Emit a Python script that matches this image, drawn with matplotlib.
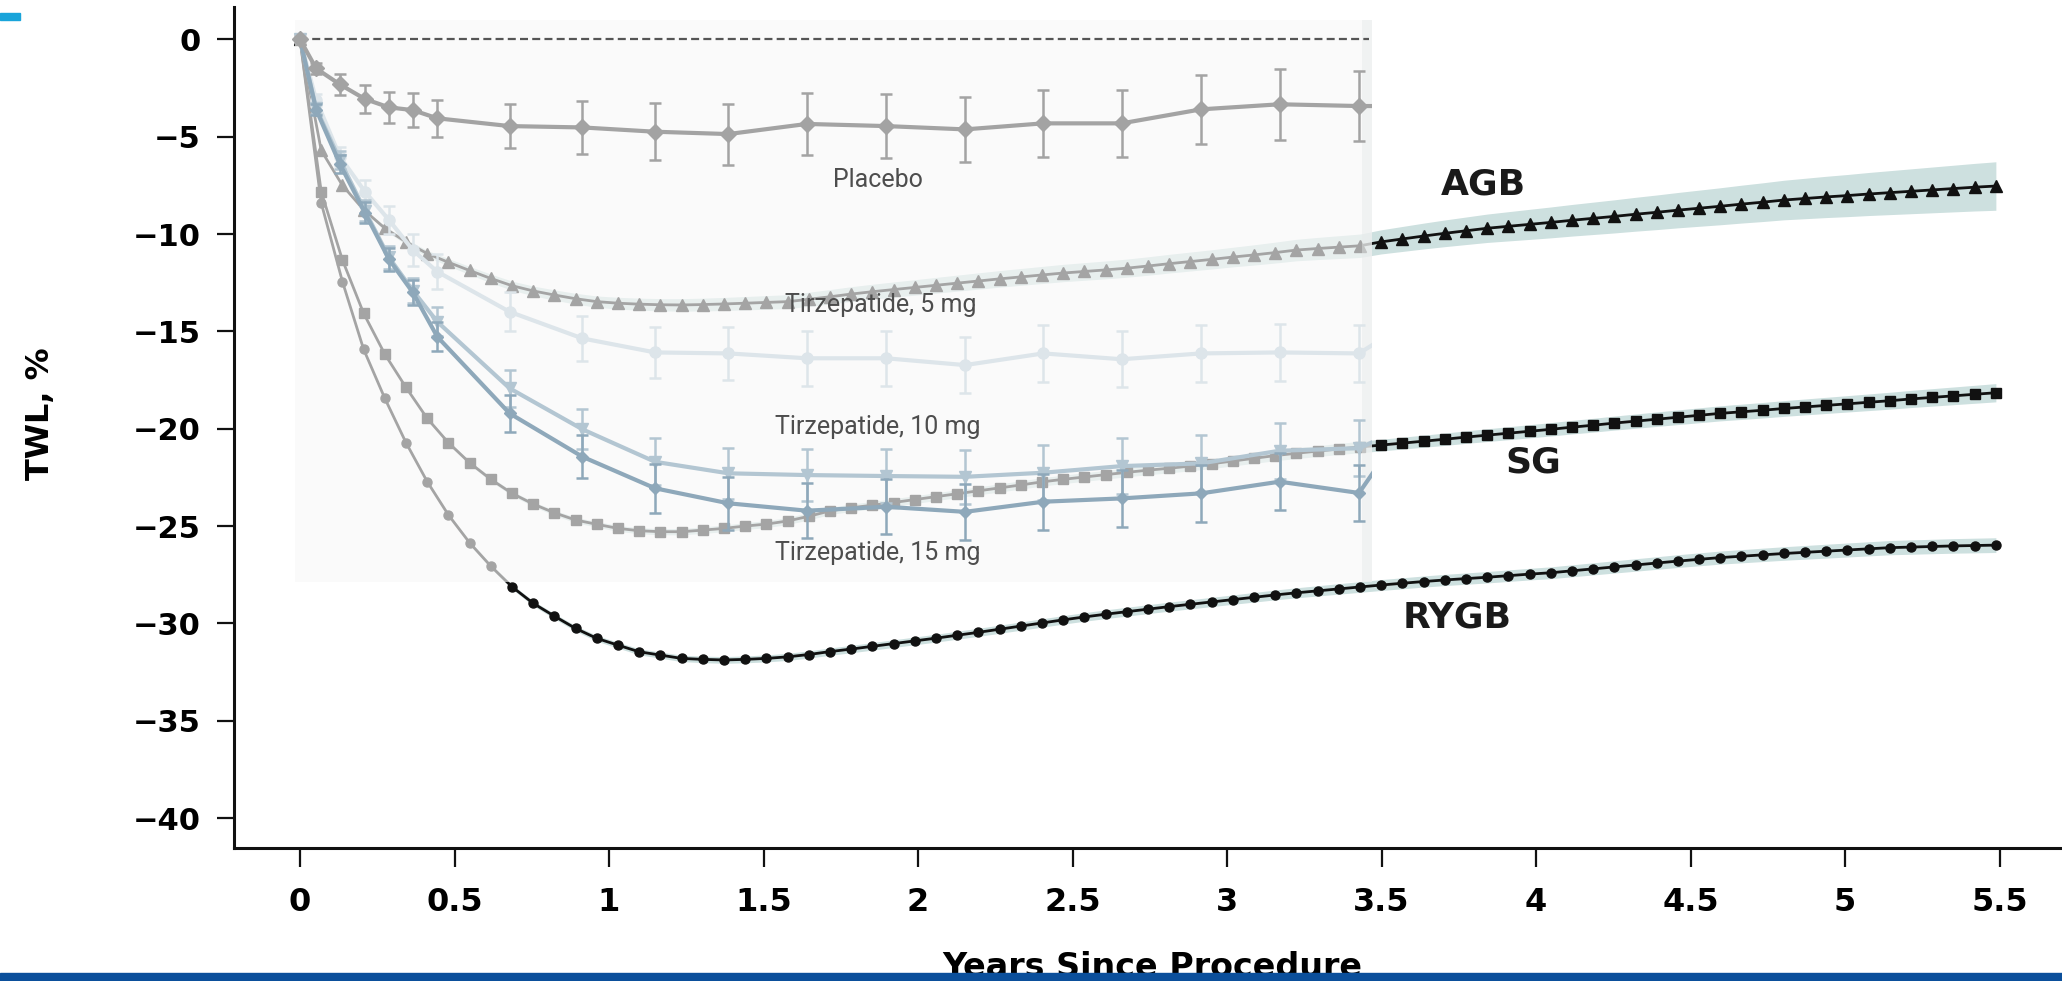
import numpy as np
import matplotlib
matplotlib.use('Agg')
import matplotlib.pyplot as plt
from matplotlib.patches import Rectangle

# surgical cohorts: one marker every ~0.0686 yr (81 markers up to 5.5 yr)
surg_t = np.round(np.arange(81) * 0.0686, 4)

agb = [0, -5.7, -7.5, -8.75, -9.7, -10.4, -11.0, -11.45, -11.87, -12.28,
       -12.65, -12.92, -13.13, -13.32, -13.47, -13.55, -13.6, -13.63, -13.64, -13.62,
       -13.59, -13.55, -13.51, -13.47, -13.35, -13.22, -13.08, -12.96, -12.85, -12.74,
       -12.63, -12.52, -12.41, -12.3, -12.2, -12.1, -12.0, -11.92, -11.84, -11.75,
       -11.64, -11.52, -11.41, -11.3, -11.18, -11.07, -10.95, -10.82, -10.74, -10.67,
       -10.6, -10.4, -10.25, -10.1, -9.96, -9.83, -9.7, -9.6, -9.5, -9.4,
       -9.29, -9.19, -9.09, -8.98, -8.88, -8.77, -8.67, -8.57, -8.46, -8.36,
       -8.25, -8.17, -8.09, -8.02, -7.94, -7.87, -7.8, -7.73, -7.66, -7.59, -7.53]

sg = [0, -7.82, -11.33, -14.07, -16.17, -17.88, -19.47, -20.72, -21.75, -22.6,
      -23.32, -23.87, -24.32, -24.69, -24.91, -25.12, -25.24, -25.29, -25.29, -25.21,
      -25.12, -25.0, -24.9, -24.74, -24.5, -24.22, -24.06, -23.93, -23.79, -23.64,
      -23.49, -23.34, -23.19, -23.04, -22.89, -22.73, -22.6, -22.48, -22.36, -22.24,
      -22.13, -22.03, -21.92, -21.8, -21.66, -21.52, -21.38, -21.26, -21.15, -21.04,
      -20.94, -20.84, -20.74, -20.64, -20.54, -20.43, -20.33, -20.23, -20.13, -20.03,
      -19.92, -19.82, -19.71, -19.61, -19.51, -19.41, -19.31, -19.21, -19.13, -19.05,
      -18.96, -18.88, -18.8, -18.72, -18.64, -18.56, -18.47, -18.39, -18.31, -18.23, -18.15]

rygb = [0, -8.4, -12.44, -15.92, -18.44, -20.72, -22.72, -24.43, -25.86, -27.06,
        -28.12, -28.97, -29.63, -30.26, -30.77, -31.12, -31.46, -31.63, -31.8, -31.85,
        -31.88, -31.85, -31.8, -31.72, -31.6, -31.45, -31.32, -31.18, -31.04, -30.9,
        -30.76, -30.61, -30.46, -30.3, -30.14, -29.98, -29.82, -29.67, -29.53, -29.4,
        -29.27, -29.14, -29.02, -28.9, -28.78, -28.66, -28.54, -28.43, -28.33, -28.23,
        -28.13, -28.03, -27.94, -27.85, -27.77, -27.7, -27.63, -27.55, -27.47, -27.4,
        -27.3, -27.2, -27.1, -27.0, -26.9, -26.8, -26.71, -26.62, -26.55, -26.48,
        -26.41, -26.35, -26.29, -26.23, -26.17, -26.11, -26.08, -26.05, -26.02, -26.0, -25.98]

# half-width of the confidence bands, read at these years
band_t = [0, 0.5, 1, 1.5, 2, 2.5, 3, 3.5, 4, 4.5, 5, 5.5]
agb_hw = [0, 0.2, 0.3, 0.35, 0.4, 0.45, 0.5, 0.62, 0.78, 0.92, 1.08, 1.25]
sg_hw = [0, 0.1, 0.15, 0.18, 0.2, 0.22, 0.25, 0.3, 0.34, 0.38, 0.42, 0.47]
rygb_hw = [0, 0.1, 0.15, 0.18, 0.2, 0.22, 0.24, 0.28, 0.3, 0.33, 0.36, 0.38]

# trial visits (last point lies past the cut-off and is clipped)
tirz_t = [0, 0.052, 0.129, 0.21, 0.288, 0.365, 0.444, 0.678, 0.914, 1.149,
          1.386, 1.64, 1.897, 2.152, 2.405, 2.659, 2.916, 3.17, 3.427, 3.68]
placebo = [0, -1.49, -2.31, -3.06, -3.49, -3.63, -4.05, -4.45, -4.52, -4.74,
           -4.86, -4.34, -4.45, -4.62, -4.31, -4.31, -3.59, -3.33, -3.42, -3.42]
placebo_err = [0, 0.3, 0.55, 0.7, 0.8, 0.87, 0.95, 1.15, 1.35, 1.47,
               1.57, 1.6, 1.65, 1.67, 1.71, 1.71, 1.76, 1.83, 1.82, 0]
tz5 = [0, -3.1, -6.02, -7.82, -9.28, -10.82, -11.93, -13.99, -15.36, -16.08,
       -16.13, -16.38, -16.38, -16.73, -16.13, -16.43, -16.13, -16.08, -16.13, -13.6]
tz5_err = [0, 0.3, 0.5, 0.6, 0.7, 0.8, 0.9, 1.0, 1.15, 1.3,
           1.35, 1.4, 1.4, 1.45, 1.45, 1.45, 1.45, 1.45, 1.45, 0]
tz10 = [0, -3.54, -6.2, -8.8, -11.2, -12.9, -14.5, -17.92, -20.03, -21.7,
        -22.29, -22.38, -22.43, -22.47, -22.26, -21.92, -21.78, -21.13, -21.0, -19.2]
tz10_err = [0, 0.3, 0.45, 0.55, 0.6, 0.65, 0.75, 0.94, 1.03, 1.2,
            1.32, 1.35, 1.38, 1.4, 1.42, 1.42, 1.45, 1.45, 1.45, 0]
tz15 = [0, -3.6, -6.4, -8.9, -11.3, -13.0, -15.27, -19.21, -21.44, -23.06,
        -23.83, -24.21, -24.01, -24.27, -23.75, -23.58, -23.32, -22.72, -23.3, -17.5]
tz15_err = [0, 0.3, 0.45, 0.55, 0.6, 0.65, 0.75, 0.94, 1.1, 1.25,
            1.37, 1.4, 1.42, 1.45, 1.45, 1.45, 1.45, 1.45, 1.45, 0]

x_ticks = [0, 0.5, 1, 1.5, 2, 2.5, 3, 3.5, 4, 4.5, 5, 5.5]
x_labels = ['0', '0.5', '1', '1.5', '2', '2.5', '3', '3.5', '4', '4.5', '5', '5.5']
y_ticks = [0, -5, -10, -15, -20, -25, -30, -35, -40]

narrow = ['Roboto', 'DejaVu Sans']

fig = plt.figure(figsize=(20.62, 9.81), dpi=100)
ax = fig.add_axes([0.1135, 0.1356, 0.8865, 0.8573])
ax.set_xlim(-0.2136, 5.702)
ax.set_ylim(-41.54, 1.67)

for s in ['top', 'right']:
    ax.spines[s].set_visible(False)
for s in ['left', 'bottom']:
    ax.spines[s].set_linewidth(2.2)
    ax.spines[s].set_color('#111111')

ax.set_xticks(x_ticks)
ax.set_xticklabels(x_labels, fontsize=23, fontweight='bold')
ax.set_yticks(y_ticks)
ax.set_yticklabels([f'{v}'.replace('-', '\u2212') for v in y_ticks], fontsize=22, fontweight='bold')
ax.tick_params(axis='x', length=14, width=1.6, pad=14, color='#111111')
ax.tick_params(axis='y', length=12, width=1.6, pad=12, color='#111111')

# surgery curves (black), faded later by the trial-period overlay
surg = [(agb, agb_hw, '^', 8.5), (sg, sg_hw, 's', 6.5), (rygb, rygb_hw, 'o', 6.5)]
for vals, hw, mk, ms in surg:
    vals = np.array(vals)
    w = np.interp(surg_t, band_t, hw)
    ax.fill_between(surg_t, vals - w, vals + w, color='#cde0df', lw=0, zorder=1)
    ax.plot(surg_t, vals, color='#111111', lw=2.0, marker=mk, ms=ms, zorder=2)

# light panel over the first 3.47 years
ax.add_patch(Rectangle((-0.016, -27.9), 3.486, 28.9, facecolor='#f8f8f8',
                       edgecolor='none', alpha=0.64, zorder=3))
ax.add_patch(Rectangle((3.437, -27.9), 0.033, 28.9, facecolor='#e6eaea',
                       edgecolor='none', alpha=0.45, zorder=3.1))
ax.plot([0, 3.46], [0, 0], color='#555555', lw=1.6, dashes=(3.6, 1.9), zorder=4)

clip = Rectangle((-0.5, -45), 3.97, 50, transform=ax.transData)

trial = [(tz5, tz5_err, '#dde5ea', 'o', 8),
         (tz10, tz10_err, '#b3c6d2', 'v', 9),
         (tz15, tz15_err, '#8ea8ba', 'D', 6.5),
         (placebo, placebo_err, '#a3a3a3', 'D', 8.5)]
for i, (vals, err, c, mk, ms) in enumerate(trial):
    eb = ax.errorbar(tirz_t, vals, yerr=err, color=c, lw=3, marker=mk, ms=ms,
                     ecolor=c, elinewidth=1.8, capsize=4, capthick=1.8, zorder=5 + i)
    parts = [eb.lines[0]] + list(eb.lines[1]) + list(eb.lines[2])
    for p in parts:
        p.set_clip_path(clip)

lbl_color = '#4d4d4d'
ax.text(1.87, -7.2, 'Placebo', ha='center', va='center', fontsize=18,
        family=narrow, color=lbl_color, zorder=10)
ax.text(1.88, -13.65, 'Tirzepatide, 5 mg', ha='center', va='center', fontsize=18,
        family=narrow, color=lbl_color, zorder=10)
ax.text(1.87, -19.93, 'Tirzepatide, 10 mg', ha='center', va='center', fontsize=18,
        family=narrow, color=lbl_color, zorder=10)
ax.text(1.87, -26.4, 'Tirzepatide, 15 mg', ha='center', va='center', fontsize=18,
        family=narrow, color=lbl_color, zorder=10)

ax.text(3.83, -7.43, 'AGB', ha='center', va='center', fontsize=26, fontweight='bold', color='#1a1a1a')
ax.text(3.99, -21.76, 'SG', ha='center', va='center', fontsize=26, fontweight='bold', color='#1a1a1a')
ax.text(3.745, -29.7, 'RYGB', ha='center', va='center', fontsize=26, fontweight='bold', color='#1a1a1a')

fig.text(0.0195, 0.578, 'TWL, %', rotation=90, ha='center', va='center',
         fontsize=23, fontweight='bold')
fig.text(0.559, 0.031, 'Years Since Procedure', ha='center', va='top',
         fontsize=24, fontweight='bold', zorder=5)

fig.add_artist(Rectangle((0, 0), 1, 8 / 981, transform=fig.transFigure,
                         color='#0b4f9b', zorder=20))
fig.add_artist(Rectangle((0, 1 - 20 / 981), 20 / 2062, 7 / 981, transform=fig.transFigure,
                         color='#19a4da', zorder=20))

fig.savefig('out.png', dpi=100)
